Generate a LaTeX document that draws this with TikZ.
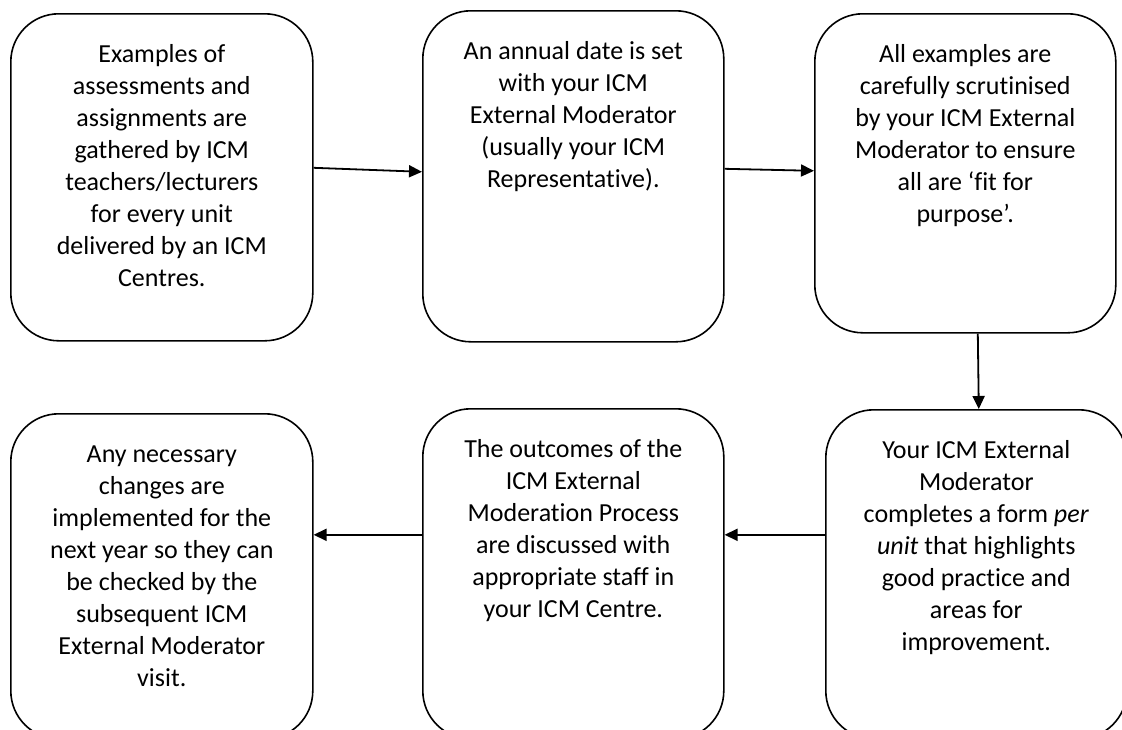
\documentclass[tikz,border=0pt]{standalone}
\usepackage{fontspec}
\setmainfont{Carlito}[Ligatures={NoCommon,NoContextual}]
\usetikzlibrary{arrows.meta}
\newcommand{\boxtext}[3]{\parbox[c][#2pt][t]{#1pt}{\centering\rule{0pt}{49pt}#3\par\vfill}}
\tikzset{
  stepbox/.style={draw, line width=1.6pt, rounded corners=48pt, inner sep=0pt,
    anchor=north west, fill=white, font=\fontsize{26}{32}\selectfont},
  flow/.style={line width=1.8pt, -{Triangle[length=13pt,width=12pt]}}
}
\begin{document}
\begin{tikzpicture}[x=1pt,y=-1pt]
\useasboundingbox (0,0) rectangle (1122,729);
\fill[white] (0,0) rectangle (1122,729);
\clip (0,0) rectangle (1122,729);

\node[stepbox] (b1) at (10,13) {\boxtext{302}{327}{Examples of\\assessments and\\assignments are\\gathered by ICM\\teachers/lecturers\\for every unit\\delivered by an ICM\\Centres.}};
\node[stepbox] (b2) at (422,10) {\boxtext{301}{331}{An annual date is set\\with your ICM\\External Moderator\\(usually your ICM\\Representative).}};
\node[stepbox] (b3) at (814,13) {\boxtext{301}{319}{All examples are\\carefully scrutinised\\by your ICM External\\Moderator to ensure\\all are ‘fit for\\purpose’.}};
\node[stepbox] (b6) at (825,409) {\boxtext{301}{329}{Your ICM External\\Moderator\\completes a form \textit{per}\\\textit{unit} that highlights\\good practice and\\areas for\\improvement.}};
\node[stepbox] (b5) at (422,408) {\boxtext{301}{330}{The outcomes of the\\ICM External\\Moderation Process\\are discussed with\\appropriate staff in\\your ICM Centre.}};
\node[stepbox] (b4) at (10,413) {\boxtext{302}{325}{Any necessary\\changes are\\implemented for the\\next year so they can\\be checked by the\\subsequent ICM\\External Moderator\\visit.}};

\draw[flow] ([yshift=9.5pt]b1.east) -- ([yshift=4.5pt]b2.west);
\draw[flow] ([yshift=7.5pt]b2.east) -- ([yshift=2.5pt]b3.west);
\draw[flow] ([xshift=12.5pt]b3.south) -- ([xshift=2.5pt]b6.north);
\draw[flow] ([yshift=39.5pt]b6.west) -- ([yshift=39pt]b5.east);
\draw[flow] ([yshift=39pt]b5.west) -- ([yshift=41.5pt]b4.east);
\end{tikzpicture}
\end{document}
